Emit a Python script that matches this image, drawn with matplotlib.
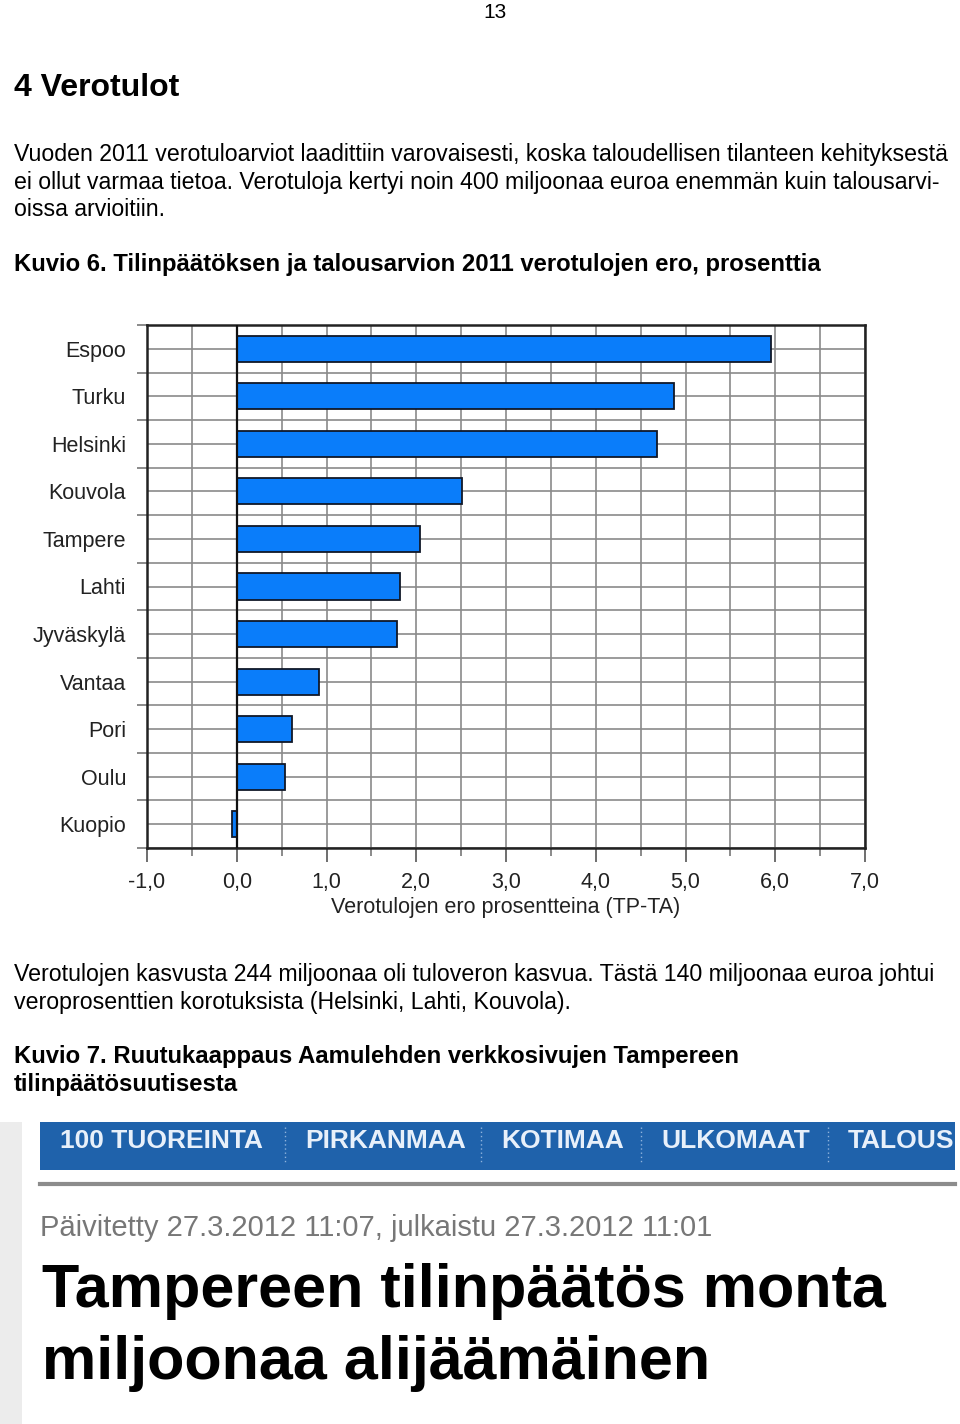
import matplotlib
matplotlib.use("Agg")
import matplotlib.pyplot as plt
from matplotlib.patches import Rectangle
from matplotlib.lines import Line2D
import numpy as np

plt.rcParams['font.family'] = ['Liberation Sans', 'DejaVu Sans']

# data
cities = ["Espoo", "Turku", "Helsinki", "Kouvola", "Tampere", "Lahti",
          "Jyväskylä", "Vantaa", "Pori", "Oulu", "Kuopio"]
diff_pct = [5.95, 4.87, 4.68, 2.51, 2.04, 1.82, 1.78, 0.92, 0.62, 0.54, -0.05]
xticks = [-1, 0, 1, 2, 3, 4, 5, 6, 7]
xtick_labels = ["-1,0", "0,0", "1,0", "2,0", "3,0", "4,0", "5,0", "6,0", "7,0"]
nav_items = ["100 TUOREINTA", "PIRKANMAA", "KOTIMAA", "ULKOMAAT", "TALOUS"]

W, H = 960, 1424
fig = plt.figure(figsize=(W / 100, H / 100), dpi=100)
fig.patch.set_facecolor("white")


def fy(y):
    return 1 - y / H


def fx(x):
    return x / W


def txt(x, y, s, **kw):
    kw.setdefault("va", "center")
    kw.setdefault("ha", "left")
    fig.text(fx(x), fy(y), s, **kw)


#### Page text

txt(495, 13, "13", ha="center", fontsize=15)
txt(14, 88, "4 Verotulot", fontsize=23, fontweight="bold")

body = 16.65
bold = 17.2
txt(14, 155, "Vuoden 2011 verotuloarviot laadittiin varovaisesti, koska taloudellisen tilanteen kehityksestä", fontsize=body)
txt(14, 183, "ei ollut varmaa tietoa. Verotuloja kertyi noin 400 miljoonaa euroa enemmän kuin talousarvi-", fontsize=body)
txt(14, 210, "oissa arvioitiin.", fontsize=body)
txt(14, 265, "Kuvio 6. Tilinpäätöksen ja talousarvion 2011 verotulojen ero, prosenttia",
    fontsize=bold, fontweight="bold")

#### Bar chart

ax = fig.add_axes([fx(147), fy(848), fx(865 - 147), (848 - 325) / H])
pos = np.arange(len(cities))
ax.barh(pos, diff_pct, height=0.55, color="#0a7dfa", edgecolor="#101828",
        linewidth=1.3, zorder=3)
ax.set_xlim(-1, 7)
ax.set_ylim(len(cities) - 0.5, -0.5)

ax.set_yticks(pos)
ax.set_yticklabels(cities)
ax.set_yticks(np.arange(len(cities) + 1) - 0.5, minor=True)
ax.set_xticks(xticks)
ax.set_xticklabels(xtick_labels)
ax.set_xticks(np.arange(-0.5, 7, 1.0), minor=True)

ax.tick_params(axis="y", which="major", length=0, pad=15, labelsize=15.5,
               labelcolor="#222222")
ax.tick_params(axis="y", which="minor", length=7, width=1.2, color="#777777")
ax.tick_params(axis="x", which="major", length=10, width=1.2, color="#555555",
               pad=7, labelsize=15.5, labelcolor="#222222")
ax.tick_params(axis="x", which="minor", length=6, width=1.2, color="#777777")

ax.grid(True, which="both", color="#8a8a8a", linewidth=1.2, zorder=0)
ax.set_axisbelow(True)
ax.axvline(0, color="#111111", linewidth=1.6, zorder=4)
for s in ax.spines.values():
    s.set_color("#222222")
    s.set_linewidth(1.8)

ax.set_xlabel("Verotulojen ero prosentteina (TP-TA)", fontsize=15.5,
              color="#222222", labelpad=3)

#### Text after chart

txt(14, 974, "Verotulojen kasvusta 244 miljoonaa oli tuloveron kasvua. Tästä 140 miljoonaa euroa johtui", fontsize=body)
txt(14, 1002, "veroprosenttien korotuksista (Helsinki, Lahti, Kouvola).", fontsize=body)
txt(14, 1057, "Kuvio 7. Ruutukaappaus Aamulehden verkkosivujen Tampereen",
    fontsize=bold, fontweight="bold")
txt(14, 1085, "tilinpäätösuutisesta", fontsize=bold, fontweight="bold")

#### Screenshot part

fig.patches.append(Rectangle((0, 0), fx(22), fy(1122), transform=fig.transFigure,
                             facecolor="#ececec", edgecolor="none"))
fig.patches.append(Rectangle((fx(40), fy(1170)), fx(955 - 40), (1170 - 1122) / H,
                             transform=fig.transFigure, facecolor="#1f62ab",
                             edgecolor="none"))
fig.lines.append(Line2D([fx(40), fx(955)], [fy(1184), fy(1184)],
                        transform=fig.transFigure, color="#8c8c8c", linewidth=3))

nav_x = [60, 305, 501, 661, 848]
sep_x = [285, 481, 641, 828]
for x, s in zip(nav_x, nav_items):
    txt(x, 1141, s, fontsize=19, fontweight="bold", color="#e8f0fa")
for x in sep_x:
    fig.lines.append(Line2D([fx(x), fx(x)], [fy(1127), fy(1162)],
                            transform=fig.transFigure, color="#8fb3dc",
                            linewidth=1, linestyle=(0, (1, 2))))

txt(40, 1228, "Päivitetty 27.3.2012 11:07, julkaistu 27.3.2012 11:01",
    fontsize=21, color="#777777")
txt(42, 1291, "Tampereen tilinpäätös monta", fontsize=44, fontweight="bold",
    color="black")
txt(42, 1363, "miljoonaa alijäämäinen", fontsize=44, fontweight="bold",
    color="black")

fig.savefig("out.png", dpi=100)
